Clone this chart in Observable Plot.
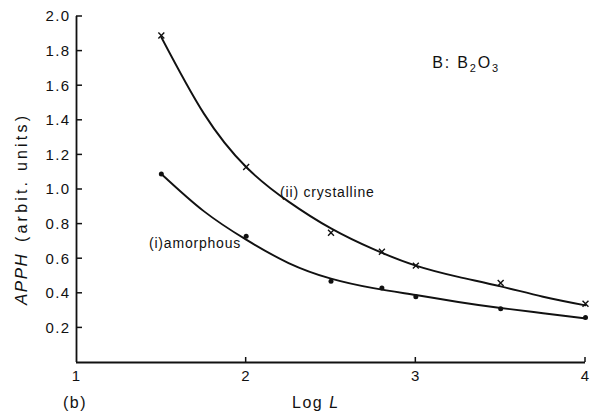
<!DOCTYPE html>
<html>
<head>
<meta charset="utf-8">
<script src="https://cdn.jsdelivr.net/npm/d3@7"></script>
<script src="https://cdn.jsdelivr.net/npm/@observablehq/plot@0.6"></script>
<style>
  html, body { margin: 0; padding: 0; background: #fff; }
  #chart svg { display: block; }
  #chart g[aria-label="y-axis tick label"] text,
  #chart g[aria-label="x-axis tick label"] text { letter-spacing: 1.4px; }
  #chart g[aria-label="text"] text { letter-spacing: 0.8px; }
</style>
</head>
<body>
<div id="chart"></div>
<script>
// Measured points: APPH against Log L
const logL = [1.5, 2.0, 2.5, 2.8, 3.0, 3.5, 4.0];
const crystalline = [1.89, 1.13, 0.75, 0.64, 0.56, 0.46, 0.34];
const amorphous = [1.09, 0.73, 0.47, 0.43, 0.38, 0.31, 0.26];

// Hand-drawn trend curves, sampled along Log L
const curveLogL = [1.5, 1.75, 2.0, 2.25, 2.5, 2.75, 3.0, 3.25, 3.5, 3.75, 4.0];
const crystallineCurve = [1.88, 1.44, 1.13, 0.93, 0.775, 0.655, 0.56, 0.495, 0.44, 0.38, 0.33];
const amorphousCurve = [1.09, 0.875, 0.71, 0.575, 0.485, 0.43, 0.39, 0.35, 0.315, 0.285, 0.255];

const xTicks = [1, 2, 3, 4];
const yTicks = [0.2, 0.4, 0.6, 0.8, 1.0, 1.2, 1.4, 1.6, 1.8, 2.0];

const font = "'Liberation Sans', Arial, sans-serif";
const ink = "#111";

const pts = (ys) => logL.map((x, i) => ({x, y: ys[i]}));
const crv = (ys) => curveLogL.map((x, i) => ({x, y: ys[i]}));

const plot = Plot.plot({
  width: 591,
  height: 414,
  marginLeft: 76,
  marginRight: 6,
  marginTop: 16,
  marginBottom: 52,
  style: {fontFamily: font, fontSize: "15px", color: ink, background: "#fff"},
  x: {type: "linear", domain: [1, 4]},
  y: {type: "linear", domain: [0, 2]},
  marks: [
    // tick labels
    Plot.axisY({ticks: yTicks, tickSize: 0, tickPadding: 6, tickFormat: d3.format(".1f"), label: null, fontSize: 15}),
    Plot.axisX({ticks: xTicks, tickSize: 0, tickPadding: 8, tickFormat: d3.format("d"), label: null, fontSize: 15}),
    // axis lines
    Plot.ruleY([0], {x1: 1, x2: 4, stroke: ink, strokeWidth: 1.8}),
    Plot.ruleX([1], {y1: 0, y2: 2, stroke: ink, strokeWidth: 1.8}),
    // fitted curves
    Plot.line(crv(crystallineCurve), {x: "x", y: "y", curve: "natural", stroke: ink, strokeWidth: 1.9}),
    Plot.line(crv(amorphousCurve), {x: "x", y: "y", curve: "natural", stroke: ink, strokeWidth: 1.9}),
    // data points
    Plot.dot(pts(crystalline), {x: "x", y: "y", symbol: "times", r: 2.8, stroke: ink, strokeWidth: 1.4}),
    Plot.dot(pts(amorphous), {x: "x", y: "y", r: 2.5, fill: ink, stroke: "none"}),
    // curve labels
    Plot.text(["(ii) crystalline"], {x: 2.2, y: 0.98, text: d => d, textAnchor: "start", fontSize: 14, fill: ink}),
    Plot.text(["(i)amorphous"], {x: 1.97, y: 0.69, text: d => d, textAnchor: "end", fontSize: 14, fill: ink})
  ]
});

document.getElementById("chart").appendChild(plot);

// Short inward ticks, positioned through the scales
const sx = plot.scale("x"), sy = plot.scale("y");
const svg = d3.select(plot);
const g = svg.append("g").attr("stroke", ink).attr("stroke-width", 1.5);
const x0 = sx.apply(1), y0 = sy.apply(0);
yTicks.forEach(t => {
  const y = sy.apply(t);
  g.append("line").attr("x1", x0).attr("x2", x0 + 6).attr("y1", y).attr("y2", y);
});
xTicks.slice(1).forEach(t => {
  const x = sx.apply(t);
  g.append("line").attr("x1", x).attr("x2", x).attr("y1", y0).attr("y2", y0 - 5);
});

// Free text, anchored at its start
const notes = svg.append("g")
  .attr("text-anchor", "start")
  .attr("font-family", font).attr("font-size", 16).attr("fill", ink);

// Chemical label
const chem = notes.append("text")
  .attr("x", sx.apply(3.1)).attr("y", sy.apply(1.70))
  .attr("letter-spacing", 1.8);
chem.append("tspan").text("B: B");
chem.append("tspan").attr("font-size", 11).attr("dy", 4).text("2");
chem.append("tspan").attr("dy", -4).text("O");
chem.append("tspan").attr("font-size", 11).attr("dy", 4).text("3");

// Y axis title, read bottom to top
const ytitle = notes.append("g").attr("transform", "translate(27,0) rotate(-90)");
ytitle.append("text").attr("x", -305).attr("y", 0)
  .attr("font-style", "italic").attr("font-size", 17).attr("letter-spacing", 1.5)
  .text("APPH");
ytitle.append("text").attr("x", -242).attr("y", 0)
  .attr("textLength", 126).attr("lengthAdjust", "spacing")
  .text("(arbit. units)");

// X axis title
const xt = notes.append("text")
  .attr("x", 292).attr("y", 408)
  .attr("letter-spacing", 1.5);
xt.append("tspan").text("Log ");
xt.append("tspan").attr("font-style", "italic").text("L");

// Panel tag
notes.append("text")
  .attr("x", 63).attr("y", 408)
  .attr("letter-spacing", 1.5)
  .text("(b)");
</script>
</body>
</html>
